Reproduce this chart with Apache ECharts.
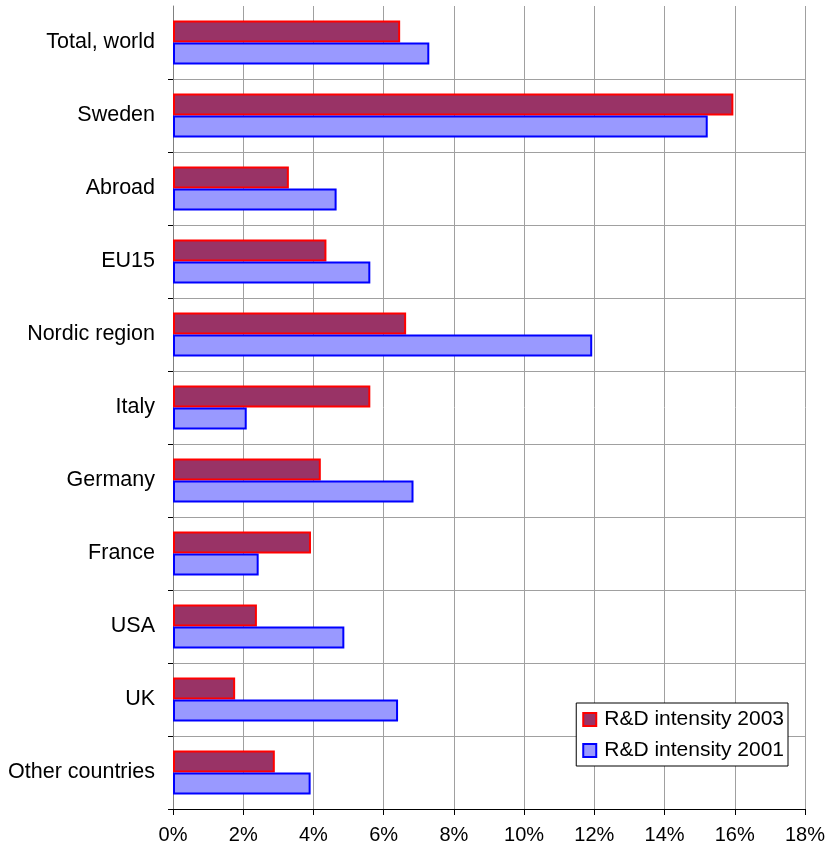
<!DOCTYPE html>
<html>
<head>
<meta charset="utf-8">
<title>R&amp;D intensity</title>
<script src="https://cdn.jsdelivr.net/npm/echarts@6/dist/echarts.min.js"></script>
<style>
  html, body { margin: 0; padding: 0; background: #ffffff; }
  #chart { width: 828px; height: 852px; }
</style>
</head>
<body>
<div id="chart"></div>
<script>
// Regions, listed top to bottom
const categories = [
  'Total, world', 'Sweden', 'Abroad', 'EU15', 'Nordic region', 'Italy',
  'Germany', 'France', 'USA', 'UK', 'Other countries'
];

// R&D intensity, percent
const intensity2003 = [6.47, 15.96, 3.30, 4.37, 6.64, 5.62, 4.21, 3.93, 2.39, 1.77, 2.90];
const intensity2001 = [7.30, 15.23, 4.66, 5.62, 11.94, 2.10, 6.85, 2.44, 4.88, 6.41, 3.92];

const xTicks = { min: 0, max: 18, interval: 2 };

const font = 'Liberation Sans, Arial, sans-serif';

// skip the boundary line and tick at the very top of the plot
const skipTop = (index) => index !== 0;

const chart = echarts.init(document.getElementById('chart'), null, { renderer: 'canvas' });

chart.setOption({
  backgroundColor: '#ffffff',
  animation: false,
  grid: { left: 173, right: 19, top: 6, bottom: 43, containLabel: false },
  legend: {
    orient: 'vertical',
    right: 40,
    bottom: 86,
    backgroundColor: '#ffffff',
    borderColor: '#000000',
    borderWidth: 1,
    padding: [6, 4, 5, 6],
    itemGap: 10,
    itemWidth: 13,
    itemHeight: 13,
    itemStyle: { borderWidth: 2 },
    icon: 'rect',
    borderRadius: 0,
    textStyle: { fontFamily: font, fontSize: 21, color: '#000000', padding: [0, 0, 0, 3] },
    data: ['R&D intensity 2003', 'R&D intensity 2001']
  },
  xAxis: {
    type: 'value',
    min: xTicks.min,
    max: xTicks.max,
    interval: xTicks.interval,
    axisLine: { show: true, lineStyle: { color: '#000000', width: 1 } },
    axisTick: { show: true, length: 6, lineStyle: { color: '#000000' } },
    axisLabel: {
      margin: 16,
      fontFamily: font,
      fontSize: 20,
      color: '#000000',
      formatter: v => v + '%'
    },
    splitLine: { show: true, lineStyle: { color: '#a0a0a0', width: 1 } }
  },
  yAxis: {
    type: 'category',
    data: categories,
    inverse: true,
    axisLine: { show: true, lineStyle: { color: '#808080', width: 1 } },
    axisTick: { show: true, length: 5, interval: skipTop, lineStyle: { color: '#000000' } },
    axisLabel: {
      margin: 18,
      fontFamily: font,
      fontSize: 21.5,
      color: '#000000',
      padding: [3, 0, 0, 0]
    },
    splitLine: { show: true, interval: skipTop, lineStyle: { color: '#a0a0a0', width: 1 } }
  },
  series: [
    {
      name: 'R&D intensity 2003',
      type: 'bar',
      data: intensity2003,
      barGap: '0%',
      barCategoryGap: '40%',
      itemStyle: { color: '#993366', borderColor: '#ff0000', borderWidth: 2 }
    },
    {
      name: 'R&D intensity 2001',
      type: 'bar',
      data: intensity2001,
      barGap: '0%',
      barCategoryGap: '40%',
      itemStyle: { color: '#9999ff', borderColor: '#0000ff', borderWidth: 2 }
    }
  ]
});
</script>
</body>
</html>
